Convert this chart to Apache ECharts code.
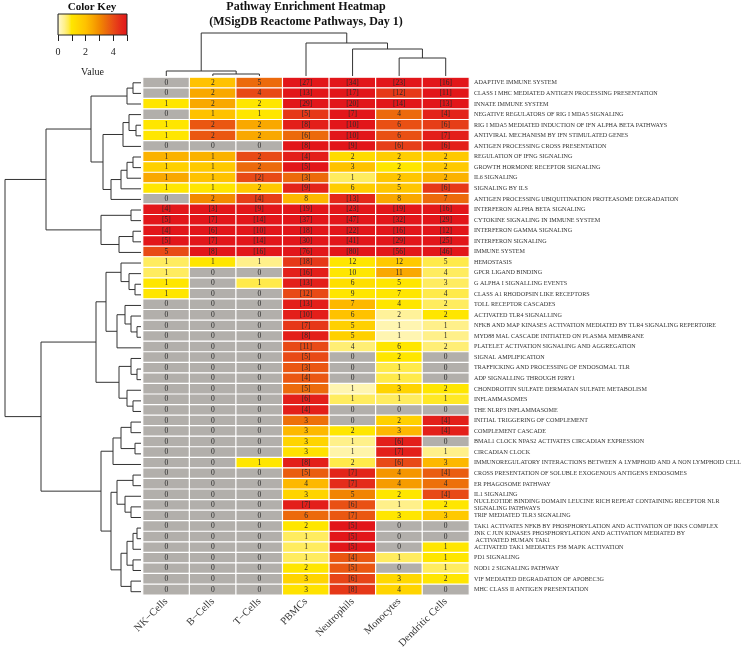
<!DOCTYPE html>
<html><head><meta charset="utf-8">
<script src="https://cdn.jsdelivr.net/npm/echarts@6.0.0/dist/echarts.min.js"></script>
<style>html,body{margin:0;padding:0;background:#fff}#c{width:749px;height:651px}</style>
</head><body><div id="c"></div>
<script>
const columns = ['NK\u2212Cells','B\u2212Cells','T\u2212Cells','PBMCs','Neutrophils','Monocytes','Dendritic Cells'];
const pathways = [
'ADAPTIVE IMMUNE SYSTEM','CLASS I MHC MEDIATED ANTIGEN PROCESSING PRESENTATION','INNATE IMMUNE SYSTEM',
'NEGATIVE REGULATORS OF RIG I MDA5 SIGNALING','RIG I MDA5 MEDIATED INDUCTION OF IFN ALPHA BETA PATHWAYS',
'ANTIVIRAL MECHANISM BY IFN STIMULATED GENES','ANTIGEN PROCESSING CROSS PRESENTATION','REGULATION OF IFNG SIGNALING',
'GROWTH HORMONE RECEPTOR SIGNALING','IL6 SIGNALING','SIGNALING BY ILS','ANTIGEN PROCESSING UBIQUITINATION PROTEASOME DEGRADATION',
'INTERFERON ALPHA BETA SIGNALING','CYTOKINE SIGNALING IN IMMUNE SYSTEM','INTERFERON GAMMA SIGNALING','INTERFERON SIGNALING',
'IMMUNE SYSTEM','HEMOSTASIS','GPCR LIGAND BINDING','G ALPHA I SIGNALLING EVENTS','CLASS A1 RHODOPSIN LIKE RECEPTORS',
'TOLL RECEPTOR CASCADES','ACTIVATED TLR4 SIGNALLING','NFKB AND MAP KINASES ACTIVATION MEDIATED BY TLR4 SIGNALING REPERTOIRE',
'MYD88 MAL CASCADE INITIATED ON PLASMA MEMBRANE','PLATELET ACTIVATION SIGNALING AND AGGREGATION','SIGNAL AMPLIFICATION',
'TRAFFICKING AND PROCESSING OF ENDOSOMAL TLR','ADP SIGNALLING THROUGH P2RY1','CHONDROITIN SULFATE DERMATAN SULFATE METABOLISM',
'INFLAMMASOMES','THE NLRP3 INFLAMMASOME','INITIAL TRIGGERING OF COMPLEMENT','COMPLEMENT CASCADE',
'BMAL1 CLOCK NPAS2 ACTIVATES CIRCADIAN EXPRESSION','CIRCADIAN CLOCK',
'IMMUNOREGULATORY INTERACTIONS BETWEEN A LYMPHOID AND A NON LYMPHOID CELL',
'CROSS PRESENTATION OF SOLUBLE EXOGENOUS ANTIGENS ENDOSOMES','ER PHAGOSOME PATHWAY','IL1 SIGNALING',
'NUCLEOTIDE BINDING DOMAIN LEUCINE RICH REPEAT CONTAINING RECEPTOR NLR\nSIGNALING PATHWAYS',
'TRIF MEDIATED TLR3 SIGNALING','TAK1 ACTIVATES NFKB BY PHOSPHORYLATION AND ACTIVATION OF IKKS COMPLEX',
'JNK C JUN KINASES PHOSPHORYLATION AND ACTIVATION MEDIATED BY\n ACTIVATED HUMAN TAK1',
'ACTIVATED TAK1 MEDIATES P38 MAPK ACTIVATION','PD1 SIGNALING','NOD1 2 SIGNALING PATHWAY',
'VIF MEDIATED DEGRADATION OF APOBEC3G','MHC CLASS II ANTIGEN PRESENTATION'];

// cell text (gene counts; brackets as printed) per column
const textNK = ['0','0','1','0','1','1','0','1','1','1','1','0','[4]','[5]','[4]','[5]','5','1','1','1','1','0','0','0','0','0','0','0','0','0','0','0','0','0','0','0','0','0','0','0','0','0','0','0','0','0','0','0','0'];
const textB  = ['2','2','2','1','2','2','0','1','1','1','1','2','[3]','[7]','[6]','[7]','[8]','1','0','0','0','0','0','0','0','0','0','0','0','0','0','0','0','0','0','0','0','0','0','0','0','0','0','0','0','0','0','0','0'];
const textT  = ['5','4','2','1','2','2','0','2','2','[2]','2','[4]','[9]','[14]','[10]','[14]','[16]','1','0','1','0','0','0','0','0','0','0','0','0','0','0','0','0','0','0','0','1','0','0','0','0','0','0','0','0','0','0','0','0'];
const textPBMC = ['[27]','[13]','[29]','[5]','[8]','[6]','[8]','[4]','[5]','[3]','[9]','8','[19]','[37]','[18]','[30]','[76]','[18]','[16]','[13]','[12]','[13]','[10]','[7]','[8]','[11]','[5]','[3]','[4]','[5]','[6]','[4]','3','3','3','3','[8]','[5]','4','3','[7]','6','2','1','1','1','2','3','3'];
const textNeut = ['[34]','[17]','[20]','[7]','[10]','[10]','[9]','2','3','1','6','[13]','[23]','[47]','[22]','[41]','[80]','12','10','6','9','7','6','5','5','4','0','0','0','1','1','0','0','2','1','1','2','[7]','[7]','5','[6]','[7]','[5]','[5]','[5]','[4]','[5]','[6]','[8]'];
const textMono = ['[23]','[12]','[14]','4','6','6','[6]','2','2','2','5','8','[19]','[32]','[16]','[29]','[56]','12','11','5','7','4','2','1','1','6','2','1','1','3','1','0','2','3','[6]','[7]','[6]','4','4','2','1','3','0','0','0','1','0','3','4'];
const textDC = ['[16]','[11]','[13]','[4]','[6]','[7]','[6]','2','2','2','[6]','7','[16]','[29]','[12]','[25]','[46]','5','4','3','4','2','2','1','1','2','0','0','0','2','1','0','[4]','[4]','0','1','3','[4]','4','[4]','2','3','0','0','1','1','1','2','0'];

// colour value (Color Key "Value", 0..5) per column
const valNK = [0,0,1.0,0,1.0,1.0,0,2.3,1.6,2.5,1.0,0,5,5,5,5,4.0,0.7,0.7,1.0,1.0,0,0,0,0,0,0,0,0,0,0,0,0,0,0,0,0,0,0,0,0,0,0,0,0,0,0,0,0];
const valB  = [2.0,2.5,2.5,2.0,3.8,3.8,0,2.3,1.8,2.0,1.0,3.0,5,5,5,5,5,1.0,0,0,0,0,0,0,0,0,0,0,0,0,0,0,0,0,0,0,0,0,0,0,0,0,0,0,0,0,0,0,0];
const valT  = [3.5,4.0,1.0,1.0,2.5,2.5,0,4.0,3.5,4.0,1.8,4.2,5,5,5,5,5,0.5,0,0.8,0,0,0,0,0,0,0,0,0,0,0,0,0,0,0,0,1.0,0,0,0,0,0,0,0,0,0,0,0,0];
const valPBMC = [5,5,5,4.3,4.8,3.5,5,4.8,5,3.5,4.7,2.2,5,5,5,5,5,4.3,4.8,4.8,4.0,4.8,4.8,4.3,4.8,4.0,4.0,3.8,3.8,3.5,4.8,4.8,3.4,2.2,1.5,1.1,4.8,3.7,2.2,1.5,4.8,3.5,1.0,0.7,0.7,0.7,1.0,1.5,1.1];
const valNeut = [5,5,5,5,5,5,5,1.3,2.0,0.7,1.7,4.6,5,5,5,5,5,1.0,1.0,1.2,1.0,2.2,2.0,1.6,1.6,0.6,0,0,0,0.25,0.7,0,0,1.0,0.5,0.3,0.8,4.7,4.5,3.1,3.9,3.8,5,5,5,3.8,3.8,4.1,4.3];
const valMono = [5,4.3,5,3.5,3.9,3.9,4.2,1.7,1.0,1.9,1.9,2.5,5,5,5,5,5,1.8,2.5,1.0,1.0,1.0,0.4,0.25,0.25,1.0,1.0,0.8,0.8,1.5,0.7,0,1.6,2.2,4.8,4.8,4.0,2.8,2.7,1.0,0.5,1.0,0,0,0,0.7,0,1.4,1.5];
const valDC = [5,5,5,4.7,4.2,4.8,4.8,1.8,1.8,2.3,4.3,3.5,5,5,5,5,5,0.8,0.7,0.7,0.8,0.7,1.0,0.5,0.5,0.6,0,0,0,1.0,0.9,0,4.8,4.8,0,0.5,2.2,3.7,3.4,4.0,1.0,1.8,0,0,1.0,1.0,0.7,1.0,0];

// row dendrogram (hclust-style merges: negative = leaf row, positive = earlier merge), heights in px
const rowMergeA = [-1,1,-5,-4,4,-8,6,7,8,5,2,-13,-15,13,12,11, -20,-19,-18,-24,-23,-22,22,19,-28,-27,-31,-30,26,24,-33,-35,31,33,-38,-41,-40,35,-43,39,-46,40,-48,42,38,34,30,16];
const rowMergeB = [-2,-3,-6,3,-7,-9,-10,-11,-12,9,10,-14,-16,-17,14,15, -21,17,18,-25,20,21,-26,23,-29,25,-32,27,28,29,-34,-36,32,-37,-39,-42,36,37,-44,-45,-47,41,-49,43,44,45,46,47];
const rowMergeH = [8,14,5,12,18,8,14,20,30,38,50,10,8,22,40,95, 6,12,20,4,10,16,24,35,4,10,8,14,22,45,10,6,20,28,8,10,16,24,4,8,8,14,10,20,30,40,100,136];

// column dendrogram
const colMergeA = [-2,-1,-6,-5,-4,2];
const colMergeB = [-3,1,-7,3,4,5];
const colMergeH = [2,5,18,27,33,43];

// palette for the colour key (value -> colour)
const keyStops = [[0,'#B2AFAB'],[0.1,'#FFF8C8'],[0.5,'#FFF08A'],[0.8,'#FFEA4A'],[1.0,'#FFE600'],[1.5,'#FFD400'],[2.0,'#FFC200'],[2.5,'#F9A800'],[3.0,'#F28A00'],[3.5,'#EC6A0C'],[4.0,'#E84A16'],[4.5,'#E42C1A'],[5.0,'#E2161A']];

function hex2rgb(h){return [parseInt(h.substr(1,2),16),parseInt(h.substr(3,2),16),parseInt(h.substr(5,2),16)];}
function colorAt(v){
  for(let i=1;i<keyStops.length;i++){
    if(v<=keyStops[i][0]){
      const [v0,c0]=keyStops[i-1],[v1,c1]=keyStops[i];
      const t=(v-v0)/(v1-v0), a=hex2rgb(c0), b=hex2rgb(c1);
      return 'rgb('+a.map((x,k)=>Math.round(x+(b[k]-x)*t)).join(',')+')';
    }
  }
  return keyStops[keyStops.length-1][1];
}
const palette=[]; for(let i=0;i<=50;i++) palette.push(colorAt(i/10));

const textCols=[textNK,textB,textT,textPBMC,textNeut,textMono,textDC];
const valCols=[valNK,valB,valT,valPBMC,valNeut,valMono,valDC];
const heatData=[];
for(let c=0;c<columns.length;c++) for(let r=0;r<pathways.length;r++) heatData.push([c,r,valCols[c][r],textCols[c][r]]);

function dendro(mA,mB,mH){
  const pos=[],hts=[],items=[];
  for(let i=0;i<mA.length;i++){
    const a=mA[i],b=mB[i];
    const pa=a<0?(-a-0.5):pos[a-1], ha=a<0?0:hts[a-1];
    const pb=b<0?(-b-0.5):pos[b-1], hb=b<0?0:hts[b-1];
    pos.push((pa+pb)/2); hts.push(mH[i]);
    items.push([pa,ha,pb,hb,mH[i]]);
  }
  return items;
}
const rowDendro=dendro(rowMergeA,rowMergeB,rowMergeH);
const colDendro=dendro(colMergeA,colMergeB,colMergeH);

const FONT="'Liberation Serif','DejaVu Serif',serif";
const HM={left:143,top:77.5,width:326,height:519.5};

const chart=echarts.init(document.getElementById('c'));
chart.setOption({
  backgroundColor:'#fff',
  animation:false,
  graphic:[
    {type:'text',x:306,y:7,style:{text:'Pathway Enrichment Heatmap',align:'center',verticalAlign:'middle',textAlign:'center',textVerticalAlign:'middle',font:"bold 12px 'Liberation Serif'",fill:'#111'}},
    {type:'text',x:306,y:22,style:{text:'(MSigDB Reactome Pathways, Day 1)',align:'center',verticalAlign:'middle',textAlign:'center',textVerticalAlign:'middle',font:"bold 12px 'Liberation Serif'",fill:'#111'}},
    {type:'text',x:92,y:7,style:{text:'Color Key',align:'center',verticalAlign:'middle',textAlign:'center',textVerticalAlign:'middle',font:"bold 11px 'Liberation Serif'",fill:'#111'}}
  ],
  grid:[
    Object.assign({},HM),
    {left:0,top:HM.top,width:141,height:HM.height},
    {left:HM.left,top:33,width:HM.width,height:43},
    {left:58,top:14,width:69,height:21,show:true,borderColor:'#222',borderWidth:1,
     backgroundColor:{type:'linear',x:0,y:0,x2:1,y2:0,colorStops:keyStops.map(s=>({offset:s[0]/5,color:s[1]}))}}
  ],
  xAxis:[
    {type:'category',gridIndex:0,data:columns,position:'bottom',axisLine:{show:false},axisTick:{show:false},
     axisLabel:{rotate:45,fontSize:10.5,fontFamily:FONT,color:'#333',margin:5,interval:0}},
    {type:'value',gridIndex:1,min:0,max:141,inverse:true,show:false},
    {type:'value',gridIndex:2,min:0,max:7,show:false},
    {type:'value',gridIndex:3,min:0,max:5,interval:1,position:'bottom',axisLine:{show:false},
     axisTick:{show:true,length:6,lineStyle:{color:'#222'}},splitLine:{show:false},
     axisLabel:{fontSize:10,fontFamily:FONT,color:'#222',margin:12,formatter:v=>(v%2===0?String(v):'')},
     name:'Value',nameLocation:'middle',nameGap:32,nameTextStyle:{fontSize:10,fontFamily:FONT,color:'#222'}}
  ],
  yAxis:[
    {type:'category',gridIndex:0,data:pathways,inverse:true,position:'right',axisLine:{show:false},axisTick:{show:false},
     axisLabel:{fontSize:6.1,fontFamily:FONT,color:'#333',margin:5,interval:0,lineHeight:7}},
    {type:'value',gridIndex:1,min:0,max:49,inverse:true,show:false},
    {type:'value',gridIndex:2,min:0,max:43,show:false},
    {type:'value',gridIndex:3,min:0,max:1,show:false}
  ],
  visualMap:{type:'continuous',show:false,min:0,max:5,dimension:2,seriesIndex:0,inRange:{color:palette}},
  series:[
    {type:'heatmap',xAxisIndex:0,yAxisIndex:0,data:heatData,
     itemStyle:{borderColor:'#fff',borderWidth:1.2},
     label:{show:true,fontSize:7.5,fontFamily:FONT,color:'#2a2a2a',formatter:p=>p.data[3]}},
    {type:'custom',xAxisIndex:1,yAxisIndex:1,data:rowDendro,silent:true,
     renderItem:(params,api)=>{
       const pa=api.value(0),ha=api.value(1),pb=api.value(2),hb=api.value(3),h=api.value(4);
       const pts=[api.coord([ha,pa]),api.coord([h,pa]),api.coord([h,pb]),api.coord([hb,pb])];
       return {type:'polyline',shape:{points:pts},style:{stroke:'#333',lineWidth:1,fill:null}};
     }},
    {type:'custom',xAxisIndex:2,yAxisIndex:2,data:colDendro,silent:true,
     renderItem:(params,api)=>{
       const pa=api.value(0),ha=api.value(1),pb=api.value(2),hb=api.value(3),h=api.value(4);
       const pts=[api.coord([pa,ha]),api.coord([pa,h]),api.coord([pb,h]),api.coord([pb,hb])];
       return {type:'polyline',shape:{points:pts},style:{stroke:'#333',lineWidth:1,fill:null}};
     }}
  ]
});
</script></body></html>
